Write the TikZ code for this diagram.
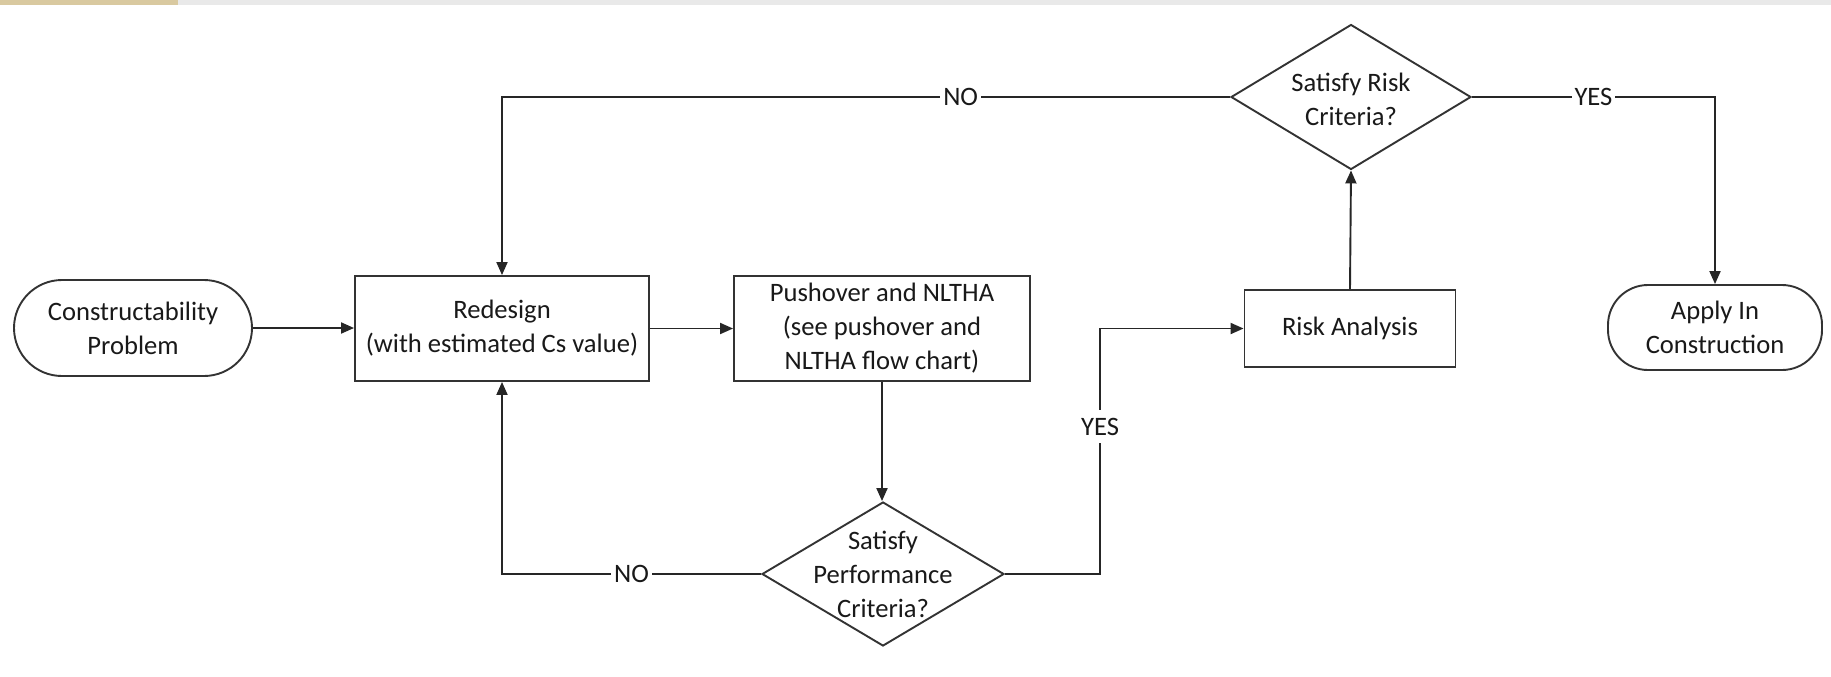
\documentclass[tikz,border=0pt]{standalone}
\usepackage{fontspec}
\setmainfont{Carlito}
\usetikzlibrary{arrows.meta,shapes.geometric}
\definecolor{topbar}{HTML}{E9E9E9}
\definecolor{tanpatch}{HTML}{D9C9A0}
\begin{document}
\begin{tikzpicture}[x=0.5pt,y=-0.5pt,
  every node/.style={font=\fontsize{13.3}{17}\selectfont, text=black!90},
  line/.style={draw=black!85, line width=0.95pt},
  arr/.style={line, -{Triangle[length=6.5pt,width=5.5pt]}},
  procbox/.style={draw=black!80, line width=0.95pt, rectangle, align=center, inner sep=0pt},
  termbox/.style={draw=black!80, line width=0.95pt, rectangle, rounded corners=#1, align=center, inner sep=0pt},
  decbox/.style={draw=black!80, line width=0.95pt, diamond, inner sep=0pt},
  lbl/.style={fill=white, inner sep=1.5pt}
]
\useasboundingbox (0,0) rectangle (1831,676);
\fill[white] (0,0) rectangle (1831,676);
\fill[topbar] (0,0) rectangle (1831,5);
\fill[tanpatch] (0,0) rectangle (178,5);

\node[termbox=24pt, minimum width=119pt, minimum height=48pt] (cp) at (133,328) {Constructability\\Problem};
\node[procbox, minimum width=147pt, minimum height=52.5pt] (rd) at (502,328.5) {Redesign\\(with estimated Cs value)};
\node[procbox, minimum width=148pt, minimum height=52.5pt] (po) at (882,328.5) {Pushover and NLTHA\\(see pushover and\\NLTHA flow chart)};
\node[procbox, minimum width=105.5pt, minimum height=38.5pt] (ra) at (1350,328.5) {Risk Analysis};
\node[termbox=20pt, minimum width=107pt, minimum height=42.5pt] (ac) at (1715,327.5) {Apply In\\Construction};
\node[decbox, minimum width=120pt, minimum height=72.5pt] (d1) at (1351,97) {};
\node[align=center] (d1t) at (1351,99) {Satisfy Risk\\Criteria?};
\node[decbox, minimum width=121pt, minimum height=72pt] (d2) at (883,574) {};
\node[align=center] (d2t) at (d2) {Satisfy\\Performance\\Criteria?};
\coordinate (yb) at (1100,0);

\draw[arr] (cp.east) -- (rd.west |- cp.east);
\draw[arr] (rd.east) -- (po.west);
\draw[arr] (po.south) -- (po.south |- d2.north);
\draw[arr] (d2.west) -- (rd.south |- d2.west) node[lbl, midway] {NO} -- (rd.south);
\draw[arr] (d2.east) -- (d2.east -| yb) -- (yb |- ra.west) node[lbl, pos=0.6, inner ysep=4pt] {YES} -- (ra.west);
\draw[arr] (ra.north) -- (d1.south);
\draw[arr] (d1.west) -- (rd.north |- d1.west) node[lbl, pos=0.37] {NO} -- (rd.north);
\draw[arr] (d1.east) -- (ac.north |- d1.east) node[lbl, midway] {YES} -- (ac.north);
\end{tikzpicture}
\end{document}
